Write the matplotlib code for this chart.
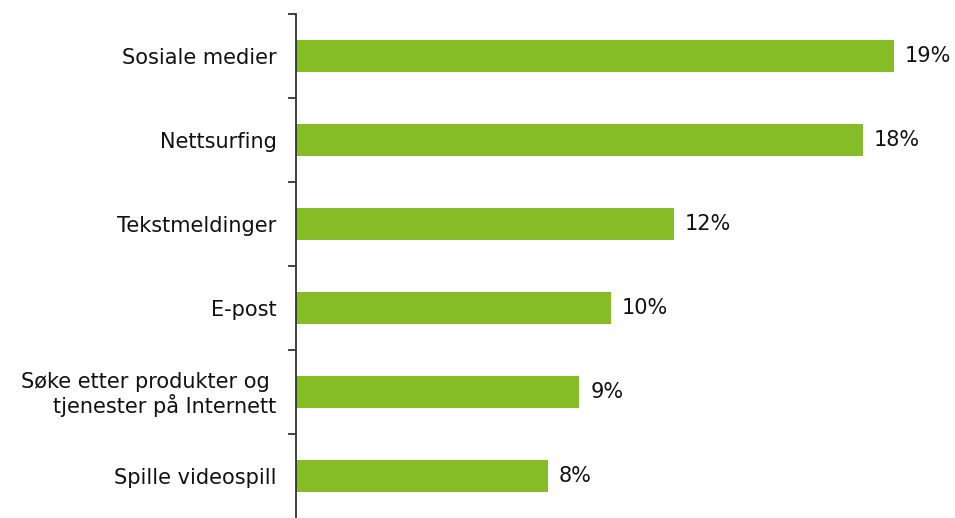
import matplotlib
matplotlib.use("Agg")
import matplotlib.pyplot as plt
import numpy as np

categories = [
    "Sosiale medier",
    "Nettsurfing",
    "Tekstmeldinger",
    "E-post",
    "Søke etter produkter og \ntjenester på Internett",
    "Spille videospill",
]
values = [19, 18, 12, 10, 9, 8]
value_labels = ["19%", "18%", "12%", "10%", "9%", "8%"]

plt.rcParams["font.family"] = ["DejaVu Sans"]

fig = plt.figure(figsize=(9.55, 5.18), dpi=100)
W, H = 955, 518
ax = fig.add_axes([296 / W, 0, 661 / W, 1 - 14 / H])

y = np.arange(len(categories))[::-1]
ax.barh(y, values, height=0.39, color="#86BC25", zorder=2)

for yi, v, lab in zip(y, values, value_labels):
    ax.annotate(lab, xy=(v, yi), xytext=(8, 0), textcoords="offset points",
                ha="left", va="center", fontsize=15, color="#111111")

ax.set_xlim(0, 21)
ax.set_ylim(-0.5, len(categories) - 0.5)

ax.set_yticks(y)
ax.set_yticklabels(categories, fontsize=15, color="#111111", ha="right",
                   multialignment="right", linespacing=1.1)
ax.tick_params(axis="y", which="major", length=0, pad=14)
ax.set_yticks(np.arange(0.5, len(categories)), minor=True)
ax.tick_params(axis="y", which="minor", length=6, width=1.3, color="#333333",
               direction="out")

ax.set_xticks([])
for side in ("top", "right", "bottom"):
    ax.spines[side].set_visible(False)
ax.spines["left"].set_color("#333333")
ax.spines["left"].set_linewidth(1.3)

fig.savefig("out.png", dpi=100)
